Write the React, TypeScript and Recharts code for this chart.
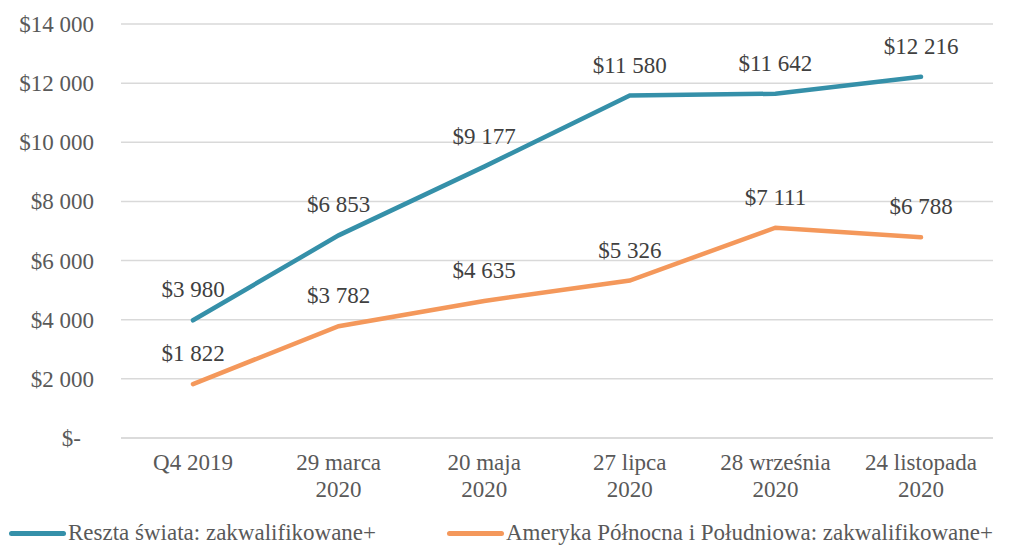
import React from "react";
import { LineChart, Line, XAxis, YAxis, CartesianGrid, Legend, LabelList } from "recharts";

const categories = ["Q4 2019", "29 marca\n2020", "20 maja\n2020", "27 lipca\n2020", "28 września\n2020", "24 listopada\n2020"];
const restOfWorld = [3980, 6853, 9177, 11580, 11642, 12216];
const americas = [1822, 3782, 4635, 5326, 7111, 6788];
const yTicks = [0, 2000, 4000, 6000, 8000, 10000, 12000, 14000];

const seriesNames = ["Reszta świata: zakwalifikowane+", "Ameryka Północna i Południowa: zakwalifikowane+"];
const TEAL = "#3590A9";
const ORANGE = "#F4985B";
const FONT = '"Liberation Serif", serif';
const FS = 23;

const data = categories.map((c, i) => ({ name: c, rest: restOfWorld[i], americas: americas[i] }));

const fmt = (v: number) => (v === 0 ? "$-" : "$" + v.toLocaleString("en-US").replace(/,/g, " "));

const XTick = ({ x, y, payload }: any) => {
  const lines = String(payload.value).split("\n");
  return (
    <text x={x} y={y} textAnchor="middle" fill="#595959" fontSize={FS} style={{ fontFamily: FONT }}>
      {lines.map((l, i) => (
        <tspan key={i} x={x} dy={i === 0 ? 24 : 27}>{l}</tspan>
      ))}
    </text>
  );
};

const YTick = ({ x, y, payload }: any) => (
  <text x={payload.value === 0 ? x - 13 : x} y={y} dy={8} textAnchor="end" fill="#595959" fontSize={FS} style={{ fontFamily: FONT }}>
    {fmt(payload.value)}
  </text>
);

const LegendContent = () => (
  <div style={{ position: "relative", height: 39, fontFamily: FONT, fontSize: FS, color: "#595959" }}>
    {[TEAL, ORANGE].map((c, i) => (
      <div key={i} style={{ position: "absolute", left: i === 0 ? 9 : 447, top: 12, display: "flex", alignItems: "center", whiteSpace: "nowrap" }}>
        <span style={{ display: "inline-block", width: 57, height: 5, background: c, borderRadius: 3, marginRight: 2 }} />
        <span>{seriesNames[i]}</span>
      </div>
    ))}
  </div>
);

export default function App() {
  return (
    <div style={{ position: "absolute", left: 0, top: 0, background: "#fff", fontFamily: FONT }}>
      <LineChart width={1014} height={547} data={data} margin={{ top: 24, right: 21, left: 0, bottom: 0 }} style={{ fontFamily: FONT }}>
        <CartesianGrid vertical={false} stroke="#D9D9D9" strokeWidth={1.5} />
        <XAxis dataKey="name" axisLine={{ stroke: "#D9D9D9", strokeWidth: 1.5 }} tickLine={false} height={70} tick={<XTick />} interval={0} padding={{ left: 72, right: 72 }} />
        <YAxis width={121} domain={[0, 14000]} ticks={yTicks} axisLine={false} tickLine={false} tickSize={0} tickMargin={27} tick={<YTick />} />
        <Legend verticalAlign="bottom" height={39} content={<LegendContent />} />
        <Line dataKey="rest" name={seriesNames[0]} stroke={TEAL} strokeWidth={4.5} dot={false} strokeLinecap="round" isAnimationActive={false}>
          <LabelList dataKey="rest" position="top" offset={23} formatter={fmt as any} fill="#404040" fontSize={FS} fontFamily={FONT} />
        </Line>
        <Line dataKey="americas" name={seriesNames[1]} stroke={ORANGE} strokeWidth={4.5} dot={false} strokeLinecap="round" isAnimationActive={false}>
          <LabelList dataKey="americas" position="top" offset={23} formatter={fmt as any} fill="#404040" fontSize={FS} fontFamily={FONT} />
        </Line>
      </LineChart>
    </div>
  );
}
